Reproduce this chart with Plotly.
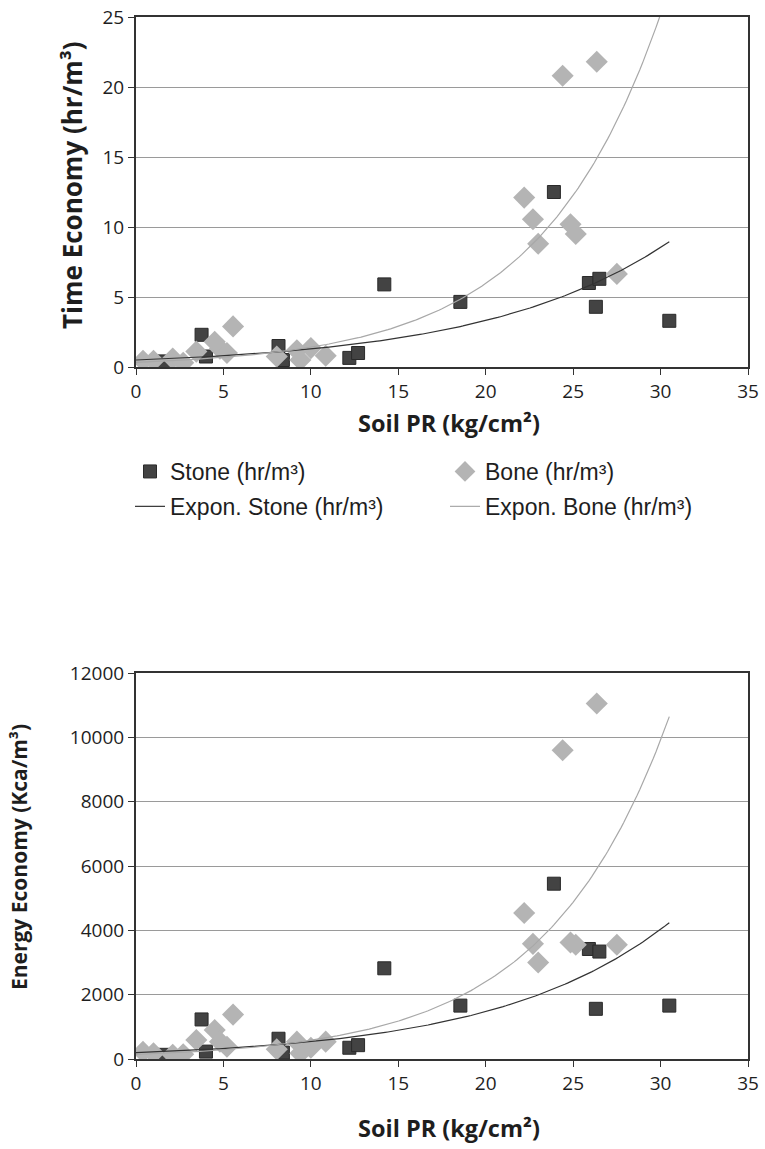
import numpy as np
import plotly.graph_objects as go

# ---------------- data ----------------
stone_x = [1.6, 3.75, 4.0, 8.15, 8.4, 12.2, 12.7, 14.2, 18.55, 23.9, 25.9, 26.5, 26.3, 30.5]
stone_time = [0.4, 2.3, 0.75, 1.5, 0.5, 0.65, 1.0, 5.9, 4.65, 12.5, 6.0, 6.3, 4.3, 3.3]
stone_energy = [130, 1230, 230, 630, 200, 350, 430, 2820, 1660, 5450, 3420, 3340, 1560, 1660]

bone_x = [0.4, 1.0, 2.1, 2.7, 3.45, 4.5, 4.8, 5.2, 5.55, 8.05, 9.2, 9.4, 10.0, 10.85,
          22.2, 22.7, 23.0, 24.4, 24.85, 25.15, 26.35, 27.5]
bone_time = [0.45, 0.45, 0.6, 0.3, 1.1, 1.8, 1.3, 1.0, 2.9, 0.75, 1.2, 0.5, 1.35, 0.8,
             12.1, 10.55, 8.8, 20.8, 10.2, 9.5, 21.8, 6.65]
bone_energy = [220, 180, 130, 150, 590, 900, 540, 380, 1380, 300, 540, 180, 350, 540,
               4540, 3580, 3000, 9600, 3620, 3550, 11050, 3550]

# exponential trend-line parameters y = a * exp(b * x)
trend_x_max = 30.5
time_stone_a, time_stone_b = 0.50, 0.0946
time_bone_a, time_bone_b = 0.335, 0.144
energy_stone_a, energy_stone_b = 197.0, 0.1006
energy_bone_a, energy_bone_b = 140.0, 0.142

x_ticks = [0, 5, 10, 15, 20, 25, 30, 35]
time_ticks = [0, 5, 10, 15, 20, 25]
energy_ticks = [0, 2000, 4000, 6000, 8000, 10000, 12000]

# ---------------- figure ----------------
W, H = 765, 1149


def px(v):
    return v / W


def py(v):
    return 1 - v / H


STONE_C = "#434343"
BONE_C = "#b4b4b4"
TICK_FONT = dict(family="Open Sans", size=19, color="#1e1e1e")
LEG_FONT = dict(family="Liberation Sans", size=23, color="#1e1e1e")

tx = np.linspace(0, trend_x_max, 200)

fig = go.Figure()

# top chart
fig.add_trace(go.Scatter(x=stone_x, y=stone_time, mode="markers", name="Stone (hr/m³)",
                         marker=dict(symbol="square", size=13, color=STONE_C, line=dict(width=1, color="#2a2a2a")),
                         xaxis="x", yaxis="y", legend="legend", legendgroup="s"))
fig.add_trace(go.Scatter(x=bone_x, y=bone_time, mode="markers", name="Bone (hr/m³)",
                         marker=dict(symbol="diamond", size=17, color=BONE_C, line=dict(width=0)),
                         xaxis="x", yaxis="y", legend="legend2", legendgroup="b"))
fig.add_trace(go.Scatter(x=tx, y=time_stone_a * np.exp(time_stone_b * tx), mode="lines",
                         name="Expon. Stone (hr/m³)", line=dict(color="#333", width=1.2),
                         xaxis="x", yaxis="y", legend="legend", legendgroup="es"))
fig.add_trace(go.Scatter(x=tx, y=time_bone_a * np.exp(time_bone_b * tx), mode="lines",
                         name="Expon. Bone (hr/m³)", line=dict(color="#a8a8a8", width=1.2),
                         xaxis="x", yaxis="y", legend="legend2", legendgroup="eb"))

# bottom chart
fig.add_trace(go.Scatter(x=stone_x, y=stone_energy, mode="markers", showlegend=False,
                         marker=dict(symbol="square", size=13, color=STONE_C, line=dict(width=1, color="#2a2a2a")),
                         xaxis="x2", yaxis="y2"))
fig.add_trace(go.Scatter(x=bone_x, y=bone_energy, mode="markers", showlegend=False,
                         marker=dict(symbol="diamond", size=17, color=BONE_C, line=dict(width=0)),
                         xaxis="x2", yaxis="y2"))
fig.add_trace(go.Scatter(x=tx, y=energy_stone_a * np.exp(energy_stone_b * tx), mode="lines", showlegend=False,
                         line=dict(color="#333", width=1.2), xaxis="x2", yaxis="y2"))
fig.add_trace(go.Scatter(x=tx, y=energy_bone_a * np.exp(energy_bone_b * tx), mode="lines", showlegend=False,
                         line=dict(color="#a8a8a8", width=1.2), xaxis="x2", yaxis="y2"))

xdom = [px(136), px(748)]
top_dom = [py(367), py(17)]
bot_dom = [py(1059), py(673)]

xax = dict(range=[0, 35], tickvals=x_ticks, showgrid=False, zeroline=False,
           showline=True, linewidth=2, linecolor="#333", mirror=True,
           ticks="outside", ticklen=6, tickwidth=1, tickcolor="#333",
           tickfont=TICK_FONT, domain=xdom, fixedrange=True, automargin=False)
yax = dict(showgrid=True, gridcolor="#9a9a9a", gridwidth=1, zeroline=False,
           showline=True, linewidth=2, linecolor="#333", mirror=True,
           ticks="outside", ticklen=6, tickwidth=1, tickcolor="#333",
           tickfont=TICK_FONT, fixedrange=True, automargin=False, tickformat="d")

fig.update_layout(
    width=W, height=H,
    margin=dict(l=0, r=0, t=0, b=0, autoexpand=False),
    paper_bgcolor="white", plot_bgcolor="white",
    hovermode=False,
    xaxis=dict(xax, anchor="y"),
    yaxis=dict(yax, range=[0, 25], tickvals=time_ticks, domain=top_dom, anchor="x"),
    xaxis2=dict(xax, anchor="y2"),
    yaxis2=dict(yax, range=[0, 12000], tickvals=energy_ticks, domain=bot_dom, anchor="x2"),
    legend=dict(x=px(130), y=py(450), xanchor="left", yanchor="top",
                font=LEG_FONT, bgcolor="rgba(0,0,0,0)", traceorder="grouped",
                tracegroupgap=2, orientation="v"),
    legend2=dict(x=px(445), y=py(450), xanchor="left", yanchor="top",
                 font=LEG_FONT, bgcolor="rgba(0,0,0,0)", traceorder="grouped",
                 tracegroupgap=2, orientation="v"),
    annotations=[
        dict(text="<b>Time Economy (hr/m³)</b>", x=px(72), y=py(185), xref="paper", yref="paper",
             textangle=-90, showarrow=False, font=dict(family="Open Sans", size=26, color="#1e1e1e"),
             xanchor="center", yanchor="middle"),
        dict(text="<b>Soil PR (kg/cm²)</b>", x=px(449), y=py(423), xref="paper", yref="paper",
             showarrow=False, font=dict(family="Open Sans", size=23.5, color="#1e1e1e"),
             xanchor="center", yanchor="middle"),
        dict(text="<b>Energy Economy (Kca/m³)</b>", x=px(19), y=py(857), xref="paper", yref="paper",
             textangle=-90, showarrow=False, font=dict(family="Open Sans", size=21, color="#1e1e1e"),
             xanchor="center", yanchor="middle"),
        dict(text="<b>Soil PR (kg/cm²)</b>", x=px(449), y=py(1128), xref="paper", yref="paper",
             showarrow=False, font=dict(family="Open Sans", size=23.5, color="#1e1e1e"),
             xanchor="center", yanchor="middle"),
    ],
)

fig.write_html(
    "out.html",
    config={"displayModeBar": False, "staticPlot": True},
    post_script="document.body.style.margin='0';document.body.style.overflow='hidden';",
)
